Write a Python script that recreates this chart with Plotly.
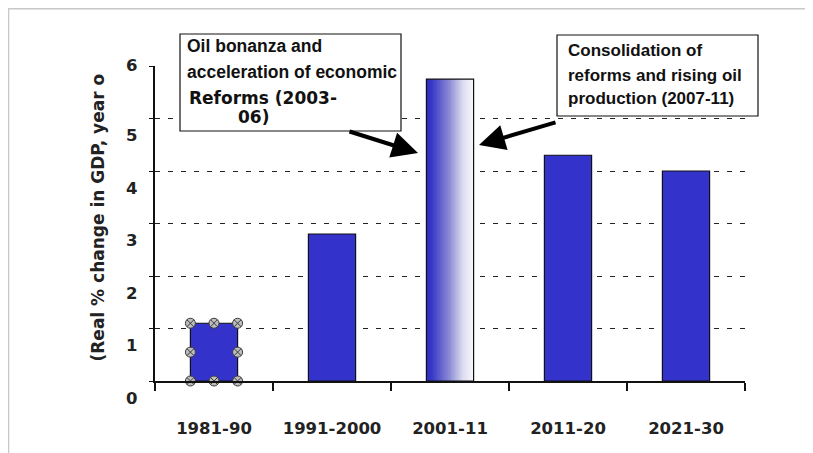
import numpy as np
import plotly.graph_objects as go

# ---- data ----
categories = ["1981-90", "1991-2000", "2001-11", "2011-20", "2021-30"]
gdp_growth = [1.1, 2.8, 5.75, 4.3, 4.0]
y_ticks = [0, 1, 2, 3, 4, 5, 6]
y_title = "(Real % change in GDP, year o"
note1_lines = ["Oil bonanza and", "acceleration of economic", "Reforms (2003-", "06)"]
note2_lines = ["Consolidation of", "reforms and rising oil", "production (2007-11)"]
highlight_idx = 2      # gradient bar
selected_idx = 0       # bar with selection handles

BLUE = "#3333cc"
FONT = "Liberation Sans"
WIDE = "DejaVu Sans"
BAR_W = 0.4

x_idx = list(range(len(categories)))
fig = go.Figure()

# gradient fill for highlighted bar (heatmap bricks spanning the bar)
N = 60
hv = gdp_growth[highlight_idx]
xe = np.linspace(highlight_idx - BAR_W / 2, highlight_idx + BAR_W / 2, N + 1)
ramp = np.linspace(0, 1, N)
fig.add_trace(go.Heatmap(
    x=xe, y=[0, hv], z=[ramp], zsmooth=False, showscale=False, hoverinfo="skip",
    colorscale=[[0, "#2c2cc6"], [0.12, "#3a3ac8"], [0.5, "#8e8ed6"], [0.78, "#dcdcf0"], [1, "#f6f6fb"]],
))

colors = [BLUE if i != highlight_idx else "rgba(0,0,0,0)" for i in x_idx]
fig.add_trace(go.Bar(
    x=x_idx, y=gdp_growth, width=BAR_W,
    marker=dict(color=colors, line=dict(color="#111111", width=1.2)),
    hoverinfo="skip",
))

# selection handles on the first bar
sv = gdp_growth[selected_idx]
hx = [selected_idx - BAR_W / 2, selected_idx, selected_idx + BAR_W / 2,
      selected_idx - BAR_W / 2, selected_idx + BAR_W / 2,
      selected_idx - BAR_W / 2, selected_idx, selected_idx + BAR_W / 2]
hy = [sv, sv, sv, sv / 2, sv / 2, 0, 0, 0]
fig.add_trace(go.Scatter(
    x=hx, y=hy, mode="markers", cliponaxis=False, hoverinfo="skip",
    marker=dict(symbol="circle-x", size=10, color="#bdbdbd",
                line=dict(color="#3a3a3a", width=1)),
))

# ---- layout geometry ----
# page body has an 8px margin, so the figure is drawn at (8, 8) in the window
OFF = 8
W, H = 813 - OFF, 453 - OFF
PL, PR, PT, PB = 155, 745, 66, 381          # plot area in window px
L, T = PL - OFF, PT - OFF
R, B = W - (PR - OFF), H - (PB - OFF)
pw, ph = PR - PL, PB - PT


def px_x(px):
    return (px - PL) / pw


def px_y(py):
    return (PB - py) / ph


annotations = []
# y tick labels (drawn offset below each gridline like the original)
for v in y_ticks:
    annotations.append(dict(
        text=str(v), xref="paper", yref="y", x=px_x(139), y=v,
        xanchor="right", yanchor="middle", showarrow=False,
        yshift=1 if v == y_ticks[-1] else -17,
        font=dict(family=WIDE, size=16.5, color="#222222", weight="bold"),
    ))

# y axis title
annotations.append(dict(
    text=y_title, xref="paper", yref="paper", x=px_x(97), y=px_y(217.5),
    xanchor="center", yanchor="middle", textangle=-90, showarrow=False,
    font=dict(family=WIDE, size=17, color="#222222", weight="bold"),
))

# note 1 text
n1_y = [46, 72, 98, 117]
n1_x = [185, 185, 187, 236]
for i, line in enumerate(note1_lines):
    fam = FONT if i < 2 else WIDE
    sz = 17.5 if i < 2 else 17
    annotations.append(dict(
        text=line, xref="paper", yref="paper", x=px_x(n1_x[i]), y=px_y(n1_y[i]),
        xanchor="left", yanchor="middle", showarrow=False,
        font=dict(family=fam, size=sz, color="#111111", weight="bold"),
    ))
# note 2 text
n2_y = [51, 75, 98]
for i, line in enumerate(note2_lines):
    annotations.append(dict(
        text=line, xref="paper", yref="paper", x=px_x(566), y=px_y(n2_y[i]),
        xanchor="left", yanchor="middle", showarrow=False,
        font=dict(family=FONT, size=17, color="#111111", weight="bold"),
    ))

# arrows pointing to the highlighted bar
arrow_style = dict(showarrow=True, arrowhead=2, arrowsize=1.3, arrowwidth=4,
                   arrowcolor="#000000", text="", axref="pixel", ayref="pixel")
annotations.append(dict(xref="paper", yref="paper", x=px_x(418), y=px_y(153),
                        ax=-70, ay=-22, **arrow_style))
annotations.append(dict(xref="paper", yref="paper", x=px_x(479), y=px_y(145),
                        ax=78, ay=-23, **arrow_style))

shapes = [
    # outer light frame
    dict(type="rect", xref="paper", yref="paper", x0=px_x(8.5), x1=px_x(840),
         y0=px_y(480), y1=px_y(8.8), line=dict(color="#c8c8c8", width=1.5),
         fillcolor="rgba(0,0,0,0)", layer="below"),
    # note boxes
    dict(type="rect", xref="paper", yref="paper", x0=px_x(180), x1=px_x(401),
         y0=px_y(131), y1=px_y(34), line=dict(color="#111111", width=1.2),
         fillcolor="white", layer="above"),
    dict(type="rect", xref="paper", yref="paper", x0=px_x(557), x1=px_x(758),
         y0=px_y(116), y1=px_y(35), line=dict(color="#111111", width=1.2),
         fillcolor="white", layer="above"),
]

fig.update_layout(
    width=W, height=H,
    margin=dict(l=L, r=R, t=T, b=B, pad=0),
    paper_bgcolor="white", plot_bgcolor="white",
    showlegend=False,
    annotations=annotations,
    shapes=shapes,
    xaxis=dict(
        range=[-0.5, len(categories) - 0.5],
        tickvals=x_idx, ticktext=categories,
        ticks="", showgrid=False, zeroline=False,
        showline=True, linecolor="#111111", linewidth=1.5,
        tickfont=dict(family=WIDE, size=16.5, color="#222222", weight="bold"),
        ticklabelstandoff=31,
        minor=dict(tick0=0.5, dtick=1, ticks="outside", ticklen=8,
                   tickcolor="#111111", tickwidth=1.5, showgrid=False),
        fixedrange=True,
    ),
    yaxis=dict(
        range=[0, 6], tickvals=y_ticks, showticklabels=False,
        ticks="outside", ticklen=4, tickcolor="#111111", tickwidth=1.2,
        showline=True, linecolor="#111111", linewidth=1.5,
        showgrid=True, gridcolor="#222222", gridwidth=1.3, griddash="5px,8px",
        zeroline=False, fixedrange=True,
    ),
)

fig.write_html("out.html")
